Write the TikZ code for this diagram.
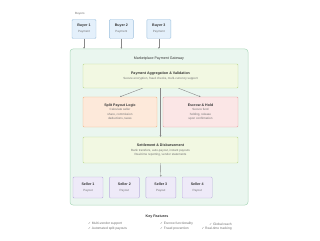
\documentclass[tikz,border=0pt]{standalone}
\usepackage{fontspec}
\setmainfont{Liberation Sans}
\newfontfamily\symfont{DejaVu Sans}
\usetikzlibrary{positioning, calc, arrows.meta}

\definecolor{buyerfill}{HTML}{E4F0FB}
\definecolor{buyerline}{HTML}{9CC0DE}
\definecolor{gwfill}{HTML}{EAF6EF}
\definecolor{gwline}{HTML}{AEDABD}
\definecolor{limefill}{HTML}{F2F8E2}
\definecolor{limeline}{HTML}{BCD98F}
\definecolor{splitfill}{HTML}{FDE9DA}
\definecolor{splitline}{HTML}{F1B68A}
\definecolor{escrowfill}{HTML}{FBE6E6}
\definecolor{escrowline}{HTML}{E9A5A5}
\definecolor{sellerfill}{HTML}{EEEAF8}
\definecolor{sellerline}{HTML}{BBAEDD}
\definecolor{titlegray}{HTML}{333333}
\definecolor{subgray}{HTML}{707070}
\definecolor{arrowgray}{HTML}{888888}

\newcommand{\cardtitle}[1]{\textcolor{titlegray}{\fontsize{3.6}{4.5}\selectfont\bfseries #1}}
\newcommand{\tick}{{\symfont ✓}}

\begin{document}
\begin{tikzpicture}[
		x=1pt, y=-1pt,
		node distance=13pt,
		every node/.style={inner sep=0pt},
		card/.style={rectangle, rounded corners=1pt, align=center, line width=0.4pt, text=subgray, font=\fontsize{3}{4.5}\selectfont},
		buyer/.style={card, draw=buyerline, fill=buyerfill, minimum width=24pt, minimum height=19pt},
		seller/.style={card, draw=sellerline, fill=sellerfill, minimum width=30pt, minimum height=21pt},
		stage/.style={card, draw=limeline, fill=limefill, minimum width=155pt},
		splitbox/.style={card, draw=splitline, fill=splitfill, minimum width=74pt, minimum height=30pt},
		escrowbox/.style={card, draw=escrowline, fill=escrowfill, minimum width=75pt, minimum height=30pt},
		gateway/.style={rectangle, rounded corners=3pt, draw=gwline, fill=gwfill, line width=0.5pt, minimum width=178pt, minimum height=156pt},
		feature/.style={text=subgray, font=\fontsize{3.3}{4}\selectfont},
		arrow/.style={draw=arrowgray, line width=0.4pt, -{Stealth[length=1.6pt, width=1.6pt]}}
		]
		
		\useasboundingbox[fill=white] (0,0) rectangle (320,240);
		
		% buyers
		\node[text=subgray, font=\fontsize{3}{4}\selectfont, anchor=west] (buyerslbl) at (75,14) {Buyers};
		\node[buyer] (buyer1) at (84,29) {\cardtitle{Buyer 1}\\[1.5pt] Payment};
		\node[buyer, right=of buyer1] (buyer2) {\cardtitle{Buyer 2}\\[1.5pt] Payment};
		\node[buyer, right=of buyer2] (buyer3) {\cardtitle{Buyer 3}\\[1.5pt] Payment};
		
		% gateway
		\node[gateway] (gateway) at (159,127) {};
		\node[text=titlegray, font=\fontsize{3.6}{4}\selectfont, below=7.5pt of gateway.north] (gwtitle) {Marketplace Payment Gateway};
		
		\node[stage, minimum height=24pt] (aggregation) at (160.5,76) {\cardtitle{Payment Aggregation \& Validation}\\[0.5pt] Secure encryption, fraud checks, multi-currency support};
		
		\node[splitbox] (split) at (120,112) {\cardtitle{Split Payout Logic}\\ Calculate seller\\ share, commission\\ deductions, taxes};
		\node[escrowbox] (escrow) at (200.5,112) {\cardtitle{Escrow \& Hold}\\ Secure fund\\ holding, release\\ upon confirmation};
		
		\node[stage, minimum height=26pt] (settlement) at (160.5,150) {\cardtitle{Settlement \& Disbursement}\\[0.5pt] Bank transfers, auto-payout, instant payouts\\ Real-time reporting, vendor statements};
		
		% sellers
		\node[seller] (seller1) at (88,187.5) {\cardtitle{Seller 1}\\[1.5pt] Payout};
		\node[seller, right=6pt of seller1] (seller2) {\cardtitle{Seller 2}\\[1.5pt] Payout};
		\node[seller, right=6pt of seller2] (seller3) {\cardtitle{Seller 3}\\[1.5pt] Payout};
		\node[seller, right=6pt of seller3] (seller4) {\cardtitle{Seller 4}\\[1.5pt] Payout};
		
		% connectors
		\foreach \b in {buyer1, buyer2, buyer3}
		\draw[arrow] (\b.south) -- (\b.south |- gateway.north);
		\draw[arrow] ([xshift=-18pt]aggregation.south) -- (split.north);
		\draw[arrow] ([xshift=18pt]aggregation.south) -- (escrow.north);
		\draw[arrow] (aggregation.south) -- (settlement.north);
		\draw[arrow] (settlement.south) -- (seller3.north);
		
		% key features
		\node[text=titlegray, font=\fontsize{3.6}{4}\selectfont\bfseries] (keytitle) at (157,217) {Key Features};
		\node[feature, anchor=west] (feat1) at (88,224) {\tick\ Multi-vendor support};
		\node[feature, anchor=west] (feat2) at (88,229) {\tick\ Automated split payouts};
		\node[feature, anchor=west] (feat3) at (160,224) {\tick\ Escrow functionality};
		\node[feature, anchor=west] (feat4) at (160,229) {\tick\ Fraud prevention};
		\node[feature, anchor=east] (feat5) at (232,224) {\tick\ Global reach};
		\node[feature, anchor=east] (feat6) at (232,229) {\tick\ Real-time tracking};
		
	\end{tikzpicture}
\end{document}
